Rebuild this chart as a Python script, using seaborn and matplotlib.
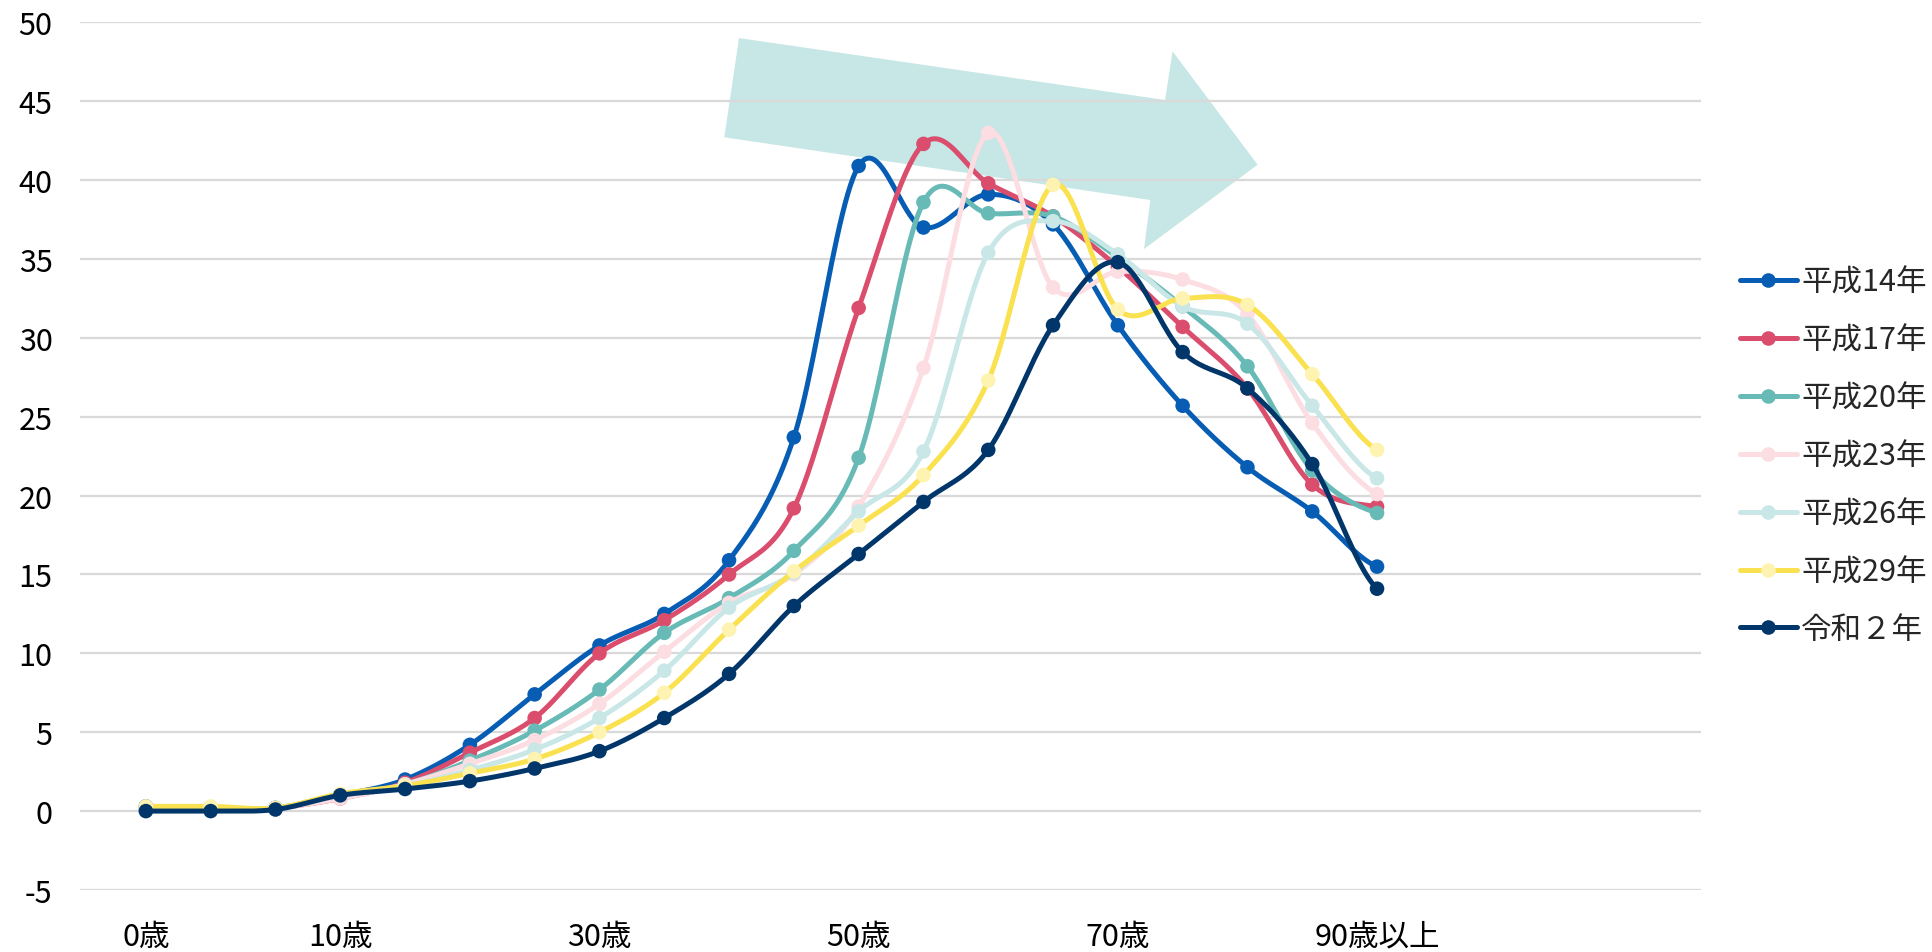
import numpy as np
import pandas as pd
import matplotlib
matplotlib.use("Agg")
import matplotlib.pyplot as plt
from matplotlib.lines import Line2D
from matplotlib.patches import Polygon
import seaborn as sns

# Age groups (category axis) and the labels shown under it
age_groups = ["0歳", "1-4歳", "5-9歳", "10-14歳", "15-19歳", "20-24歳", "25-29歳",
              "30-34歳", "35-39歳", "40-44歳", "45-49歳", "50-54歳", "55-59歳",
              "60-64歳", "65-69歳", "70-74歳", "75-79歳", "80-84歳", "85-89歳", "90歳以上"]
tick_positions = [0, 3, 7, 11, 15, 19]
tick_labels = ["0歳", "10歳", "30歳", "50歳", "70歳", "90歳以上"]

series_names = ["平成14年", "平成17年", "平成20年", "平成23年", "平成26年", "平成29年", "令和２年"]
h14 = [0.3, 0.2, 0.2, 1.0, 2.0, 4.2, 7.4, 10.5, 12.5, 15.9, 23.7, 40.9, 37.0, 39.1, 37.2, 30.8, 25.7, 21.8, 19.0, 15.5]
h17 = [0.2, 0.1, 0.2, 0.8, 1.8, 3.7, 5.9, 10.0, 12.1, 15.0, 19.2, 31.9, 42.3, 39.8, 37.7, 34.5, 30.7, 26.8, 20.7, 19.3]
h20 = [0.2, 0.2, 0.2, 1.0, 1.7, 3.2, 5.1, 7.7, 11.3, 13.5, 16.5, 22.4, 38.6, 37.9, 37.7, 35.1, 32.0, 28.2, 21.6, 18.9]
h23 = [0.2, 0.2, 0.2, 0.8, 1.7, 3.0, 4.5, 6.8, 10.1, 13.2, 15.0, 19.3, 28.1, 43.0, 33.2, 34.2, 33.7, 31.5, 24.6, 20.1]
h26 = [0.2, 0.2, 0.2, 1.0, 1.6, 2.6, 3.9, 5.9, 8.9, 12.9, 15.1, 19.0, 22.8, 35.4, 37.4, 35.3, 32.0, 30.9, 25.7, 21.1]
h29 = [0.3, 0.3, 0.2, 1.1, 1.6, 2.4, 3.3, 5.0, 7.5, 11.5, 15.2, 18.1, 21.3, 27.3, 39.7, 31.8, 32.5, 32.1, 27.7, 22.9]
r02 = [0.0, 0.0, 0.1, 1.0, 1.4, 1.9, 2.7, 3.8, 5.9, 8.7, 13.0, 16.3, 19.6, 22.9, 30.8, 34.8, 29.1, 26.8, 22.0, 14.1]
series_values = [h14, h17, h20, h23, h26, h29, r02]

line_colors = ["#065DB3", "#DA4D6D", "#67BAB6", "#FCDDE1", "#C9E7E7", "#FAE14F", "#01366B"]
marker_colors = ["#065DB3", "#DA4D6D", "#67BAB6", "#FCDDE1", "#C9E7E7", "#FEF3B0", "#01366B"]


def smooth(y, steps=24):
    """Cubic Bezier smoothing through every point (Catmull-Rom style control points)."""
    y = np.asarray(y, dtype=float)
    n = len(y)
    xs, ys = [], []
    t = np.linspace(0, 1, steps, endpoint=False)
    for i in range(n - 1):
        p0 = y[max(i - 1, 0)]
        p1 = y[i]
        p2 = y[i + 1]
        p3 = y[min(i + 2, n - 1)]
        c1 = p1 + (p2 - p0) / 6.0
        c2 = p2 - (p3 - p1) / 6.0
        b = ((1 - t) ** 3) * p1 + 3 * ((1 - t) ** 2) * t * c1 + 3 * (1 - t) * t ** 2 * c2 + t ** 3 * p2
        xs.append(i + t)
        ys.append(b)
    xs.append(np.array([n - 1.0]))
    ys.append(np.array([y[-1]]))
    return np.concatenate(xs), np.concatenate(ys)


sns.set_theme(style="white")
plt.rcParams["font.family"] = ["Noto Sans CJK JP", "DejaVu Sans"]
plt.rcParams["axes.unicode_minus"] = False

fig = plt.figure(figsize=(19.33, 9.53), dpi=100)
ax = fig.add_axes([0.0416, 0.0651, 0.8384, 0.9103])

# Trend arrow behind the curves (axes-fraction outline)
arrow_shape = [(0.4064, 0.982), (0.6693, 0.9106), (0.6739, 0.9667), (0.7264, 0.8360),
               (0.6563, 0.7388), (0.6602, 0.7953), (0.3973, 0.8676)]
ax.add_patch(Polygon(arrow_shape, closed=True, transform=ax.transAxes,
                     facecolor="#C7E6E6", edgecolor="none", zorder=0.3))

idx = np.arange(len(age_groups))
for k, (name, vals) in enumerate(zip(series_names, series_values)):
    sx, sy = smooth(vals)
    curve = pd.DataFrame({"x": sx, "y": sy})
    sns.lineplot(data=curve, x="x", y="y", ax=ax, color=line_colors[k], linewidth=3.6,
                 sort=False, estimator=None, zorder=2 + k)
    pts = pd.DataFrame({"x": idx, "y": vals})
    sns.scatterplot(data=pts, x="x", y="y", ax=ax, color=marker_colors[k], s=110,
                    edgecolor="none", linewidth=0, zorder=2.5 + k)

ax.set_xlim(-1.01, 24.0)
ax.set_ylim(-5, 50)
ax.set_yticks(np.arange(-5, 51, 5))
ax.set_xticks(tick_positions)
ax.set_xticklabels(tick_labels)
ax.set_xlabel("")
ax.set_ylabel("")
ax.set_axisbelow(True)
ax.yaxis.grid(True, color="#D9D9D9", linewidth=1.6)
ax.xaxis.grid(False)
for s in ax.spines.values():
    s.set_visible(False)
ax.tick_params(axis="y", length=0, pad=20, labelsize=22, labelcolor="#000000")
ax.tick_params(axis="x", length=0, pad=22, labelsize=22, labelcolor="#000000")

handles = [Line2D([0], [0], color=line_colors[k], linewidth=3.6, marker="o",
                  markersize=10.5, markerfacecolor=marker_colors[k], markeredgewidth=0)
           for k in range(len(series_names))]
fig.legend(handles, series_names, loc="center left", bbox_to_anchor=(0.9, 0.5205),
           frameon=False, fontsize=22, handlelength=1.86, handletextpad=0.15,
           labelspacing=0.88, borderpad=0, borderaxespad=0)

fig.savefig("out.png", dpi=100)
